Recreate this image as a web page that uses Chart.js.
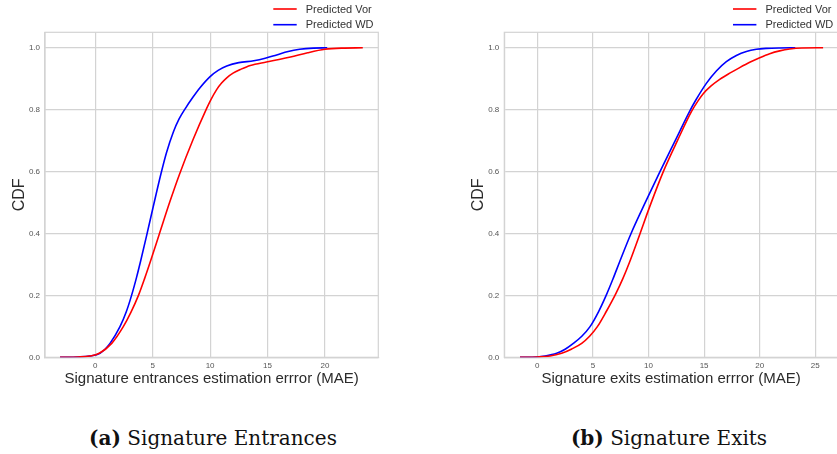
<!DOCTYPE html>
<html>
<head>
<meta charset="utf-8">
<script src="https://cdn.jsdelivr.net/npm/chart.js@4.4.0/dist/chart.umd.min.js"></script>
<style>
  html, body { margin: 0; padding: 0; width: 837px; height: 454px; overflow: hidden; background: #fff; }
  .panel { position: absolute; top: 0; height: 400px; }
  #panelA { left: 0; width: 420px; }
  #panelB { left: 420px; width: 430px; }
  .cap { position: absolute; top: 426px; line-height: 24px; font-family: 'DejaVu Serif', serif; font-size: 20px;
         color: #111; white-space: nowrap; transform: translateX(-50%); }
  .cap b { font-weight: bold; }
</style>
</head>
<body>
<div class="panel" id="panelA"><canvas id="chartA" width="420" height="400"></canvas></div>
<div class="panel" id="panelB"><canvas id="chartB" width="430" height="400"></canvas></div>
<div class="cap" style="left:213px"><b>(a)</b> Signature Entrances</div>
<div class="cap" style="left:669px"><b>(b)</b> Signature Exits</div>

<script>
// ---- series: cumulative distribution of estimation error (MAE) ----
const seriesNames = ['Predicted Vor', 'Predicted WD'];
const seriesColors = ['#ff0000', '#0000ff'];

// (a) signature entrances
const entVorX   = [-3.07, -1.5, -0.46, 0.35, 1.43, 2.44, 3.1, 3.76, 4.3, 4.82, 5.55, 6.5, 7.32, 8.5, 9.7, 10.05, 10.57, 11.0, 11.45, 12.0, 12.7, 13.5, 14.9, 16.0, 17.0, 18.5, 20.0, 21.5, 23.3];
const entVorCdf = [0, 0.001, 0.004, 0.013, 0.045, 0.099, 0.145, 0.2, 0.255, 0.312, 0.395, 0.503, 0.59, 0.702, 0.804, 0.831, 0.865, 0.886, 0.903, 0.918, 0.931, 0.943, 0.954, 0.962, 0.970, 0.984, 0.995, 0.999, 1.0];
const entWdX    = [-3.07, -1.5, -0.5, 0.41, 1.28, 2.15, 2.7, 3.16, 3.6, 3.95, 4.47, 5.0, 5.72, 6.2, 6.8, 7.3, 7.81, 8.5, 9.12, 10.0, 10.7, 11.45, 12.5, 13.8, 14.8, 15.8, 16.8, 17.8, 19.0, 20.2];
const entWdCdf  = [0, 0.001, 0.004, 0.013, 0.045, 0.099, 0.147, 0.2, 0.259, 0.311, 0.393, 0.479, 0.593, 0.661, 0.728, 0.77, 0.802, 0.84, 0.871, 0.907, 0.927, 0.941, 0.952, 0.958, 0.966, 0.977, 0.988, 0.995, 0.999, 1.0];

// (b) signature exits
const exitVorX   = [-1.56, 0.0, 1.14, 2.19, 3.1, 3.99, 4.7, 5.4, 6.2, 7.05, 7.7, 8.3, 9.17, 10.1, 11.33, 12.6, 13.88, 14.48, 14.9, 15.6, 16.4, 17.3, 18.2, 19.1, 20.0, 20.9, 21.8, 22.7, 23.8, 25.7];
const exitVorCdf = [0, 0.001, 0.004, 0.013, 0.027, 0.045, 0.068, 0.099, 0.148, 0.205, 0.255, 0.308, 0.393, 0.486, 0.6, 0.7, 0.795, 0.83, 0.851, 0.876, 0.898, 0.918, 0.936, 0.953, 0.968, 0.981, 0.990, 0.996, 0.9993, 1.0];
const exitWdX    = [-1.56, 0.0, 0.69, 1.74, 2.5, 3.24, 4.0, 4.74, 5.5, 6.2, 6.8, 7.44, 8.43, 9.84, 11.03, 12.4, 13.73, 14.27, 15.2, 16.1, 17.0, 17.9, 18.8, 19.7, 20.6, 21.8, 23.2];
const exitWdCdf  = [0, 0.001, 0.004, 0.013, 0.026, 0.045, 0.068, 0.099, 0.147, 0.201, 0.253, 0.312, 0.4, 0.51, 0.6, 0.7, 0.797, 0.832, 0.885, 0.925, 0.955, 0.975, 0.988, 0.995, 0.998, 0.9995, 1.0];

// ---- axes ----
const yTicks = [0, 0.2, 0.4, 0.6, 0.8, 1.0];
const xTicksEnt = [0, 5, 10, 15, 20];
const xTicksExit = [0, 5, 10, 15, 20, 25];
const xTitleEnt = 'Signature entrances estimation errror (MAE)';
const xTitleExit = 'Signature exits estimation errror (MAE)';
const yTitle = 'CDF';

Chart.defaults.font.family = "'Liberation Sans', Arial, sans-serif";

const GRID = '#d3d3d3';

function toPoints(xs, ys) { return xs.map((x, i) => ({ x: x, y: ys[i] })); }

// box around the plotting area and the small two-row legend above it
const framePlugin = {
  id: 'frame',
  beforeDatasetsDraw(chart) {
    const a = chart.chartArea, ctx = chart.ctx;
    ctx.save();
    ctx.strokeStyle = GRID;
    ctx.lineWidth = 1.2;
    ctx.strokeRect(a.left, a.top, a.right - a.left, a.bottom - a.top);
    ctx.restore();
  },
  afterDraw(chart) {
    const a = chart.chartArea, ctx = chart.ctx;
    ctx.save();
    ctx.font = "11px 'Liberation Sans', Arial, sans-serif";
    ctx.textBaseline = 'middle';
    ctx.textAlign = 'left';
    chart.data.datasets.forEach((ds, i) => {
      const y = 9 + i * 15.7;
      ctx.strokeStyle = ds.borderColor;
      ctx.lineWidth = 1.6;
      ctx.beginPath();
      ctx.moveTo(a.right - 105, y);
      ctx.lineTo(a.right - 81.6, y);
      ctx.stroke();
      ctx.fillStyle = '#333';
      ctx.fillText(ds.label, a.right - 72.6, y + 0.5);
    });
    ctx.restore();
  }
};

function makeChart(id, sets, xMin, xMax, xTicks, xTitle, yAxisWidth, yTitlePad, padRight) {
  return new Chart(document.getElementById(id), {
    type: 'scatter',
    data: {
      datasets: sets.map((s, i) => ({
        label: seriesNames[i],
        data: toPoints(s[0], s[1]),
        showLine: true,
        borderColor: seriesColors[i],
        backgroundColor: seriesColors[i],
        borderWidth: 1.6,
        pointRadius: 0,
        cubicInterpolationMode: 'monotone'
      }))
    },
    options: {
      responsive: false,
      animation: false,
      layout: { padding: { top: 32.3, right: padRight, bottom: 0, left: 0 } },
      plugins: { legend: { display: false }, tooltip: { enabled: false } },
      scales: {
        x: {
          type: 'linear', min: xMin, max: xMax,
          afterBuildTicks: s => { s.ticks = xTicks.map(v => ({ value: v })); },
          afterFit: s => { s.height = 42.7; },
          grid: { color: GRID, lineWidth: 1.2, drawTicks: false },
          border: { color: GRID, width: 1.2 },
          ticks: { color: '#555', font: { size: 8 }, padding: 4, maxRotation: 0,
                   callback: v => String(v) },
          title: { display: true, text: xTitle, color: '#2b2b2b', font: { size: 15 },
                   padding: { top: 0, bottom: 11.8 } }
        },
        y: {
          type: 'linear', min: 0, max: 1.05,
          afterBuildTicks: s => { s.ticks = yTicks.map(v => ({ value: v })); },
          afterFit: s => { s.width = yAxisWidth; },
          grid: { color: GRID, lineWidth: 1.2, drawTicks: false },
          border: { color: GRID, width: 1.2 },
          ticks: { color: '#555', font: { size: 8 }, padding: 5,
                   callback: v => Number(v).toFixed(1) },
          title: { display: true, text: yTitle, color: '#2b2b2b', font: { size: 16 },
                   padding: { top: yTitlePad, bottom: 0 } }
        }
      }
    },
    plugins: [framePlugin]
  });
}

makeChart('chartA', [[entVorX, entVorCdf], [entWdX, entWdCdf]],
          -4.38, 24.65, xTicksEnt, xTitleEnt, 45, 9.8, 420 - 378.3);
makeChart('chartB', [[exitVorX, exitVorCdf], [exitWdX, exitWdCdf]],
          -2.97, 27.04, xTicksExit, xTitleExit, 84.3, 48.8, 430 - 418);
</script>
</body>
</html>
